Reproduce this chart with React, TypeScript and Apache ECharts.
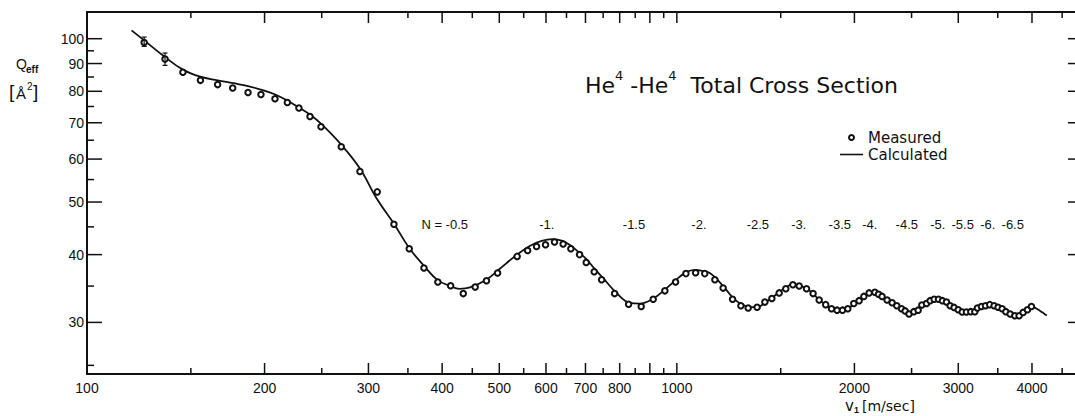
import React, { useEffect, useRef } from "react";
import * as echarts from "echarts";

// ---- data ----
const measuredV = [125, 135.6, 145.4, 155.7, 166.5, 176.6, 187.5, 197.2, 208.3, 218.6, 228.7, 238.8, 249.3, 269.8, 290.2, 310.5, 331.4, 351.8, 372.6, 393.4, 413.5, 434.4, 455.1, 475.6, 496.7, 536.1, 558.5, 578.3, 598.9, 620.3, 641.5, 661.1, 684, 702, 724.2, 745.5, 784.3, 828.3, 870.1, 911.8, 954.3, 995, 1036, 1076, 1115, 1160, 1198, 1243, 1284, 1321, 1368, 1410, 1449, 1491, 1530, 1573, 1612, 1659, 1702, 1743, 1788, 1829, 1869, 1909, 1949, 1995, 2037, 2075, 2118, 2166, 2197, 2228, 2272, 2317, 2360, 2404, 2438, 2475, 2522, 2565, 2602, 2650, 2688, 2730, 2777, 2820, 2865, 2906, 2951, 2999, 3046, 3097, 3150, 3200, 3233, 3284, 3336, 3392, 3450, 3504, 3560, 3612, 3673, 3741, 3804, 3864, 3930, 3992];
const measuredQ = [98.4, 91.7, 86.7, 83.8, 82.3, 81.1, 79.6, 78.9, 77.5, 76.3, 74.5, 71.9, 68.8, 63.2, 56.9, 52.2, 45.5, 41.0, 37.8, 35.6, 35.05, 33.9, 34.85, 35.8, 37.0, 39.7, 40.7, 41.4, 41.7, 42.2, 41.85, 41.0, 40.0, 38.7, 37.2, 35.96, 33.9, 32.4, 32.1, 33.1, 34.3, 35.6, 36.9, 37.05, 36.9, 35.96, 34.7, 33.1, 32.2, 31.9, 32.0, 32.7, 33.2, 34.0, 34.6, 35.2, 35.0, 34.6, 33.9, 33.0, 32.35, 31.8, 31.6, 31.6, 31.8, 32.5, 32.9, 33.5, 34.0, 34.1, 33.8, 33.5, 33.0, 32.6, 32.2, 31.8, 31.5, 31.1, 31.4, 31.6, 32.3, 32.5, 32.9, 33.1, 33.1, 32.9, 32.7, 32.2, 31.97, 31.66, 31.35, 31.35, 31.4, 31.4, 31.9, 32.1, 32.2, 32.35, 32.2, 32.0, 31.8, 31.4, 31.1, 30.86, 30.86, 31.3, 31.66, 32.1];

const calcV = [119, 125, 135.6, 145.4, 155.6, 166.5, 177, 187.5, 197, 208, 218, 228, 239, 250, 269, 290, 310, 331, 352, 373, 393, 413, 428, 446, 476, 500, 536, 563, 590, 616, 640, 658, 680, 703, 725, 750, 790, 832, 865, 912, 955, 999, 1036, 1073, 1110, 1137, 1170, 1214, 1255, 1296, 1330, 1368, 1410, 1450, 1490, 1530, 1573, 1612, 1660, 1702, 1743, 1790, 1830, 1890, 1950, 2000, 2040, 2080, 2120, 2166, 2200, 2230, 2272, 2317, 2360, 2404, 2440, 2475, 2520, 2565, 2610, 2650, 2690, 2750, 2800, 2865, 2906, 2950, 3000, 3050, 3100, 3150, 3200, 3240, 3290, 3390, 3450, 3505, 3560, 3610, 3670, 3740, 3800, 3865, 3930, 3990, 4050, 4130, 4200, 4240];
const calcQ = [103.6, 99.3, 92.5, 87.7, 85.1, 83.8, 82.8, 81.8, 80.6, 79.0, 77.0, 74.8, 72.4, 69.5, 64.0, 57.7, 50.7, 45.7, 41.1, 38.1, 35.9, 35.0, 34.6, 34.8, 36.0, 37.6, 40.0, 41.5, 42.4, 42.7, 42.4, 41.7, 40.5, 39.2, 37.7, 36.2, 34.0, 32.6, 32.5, 33.2, 34.5, 36.0, 37.1, 37.5, 37.3, 37.0, 36.0, 34.4, 33.0, 32.3, 32.0, 32.0, 32.6, 33.3, 34.1, 34.8, 35.3, 35.1, 34.6, 33.9, 33.0, 32.3, 31.8, 31.6, 31.8, 32.5, 33.0, 33.6, 34.0, 34.2, 33.9, 33.5, 33.0, 32.6, 32.2, 31.8, 31.4, 31.1, 31.3, 31.7, 32.3, 32.6, 32.9, 33.2, 33.0, 32.7, 32.2, 31.9, 31.6, 31.35, 31.3, 31.4, 31.5, 31.9, 32.1, 32.35, 32.2, 32.0, 31.8, 31.4, 31.1, 30.9, 30.85, 31.3, 31.7, 32.0, 31.9, 31.5, 31.1, 30.9];

const errV = [125, 135.6];
const errLow = [96.8, 89.3];
const errHigh = [100.7, 94.1];

const xMajorTicks = [200, 300, 400, 500, 600, 700, 800, 900, 1000, 2000, 3000, 4000];
const xMinorTicks = [150, 250, 350, 450, 550, 650, 750, 850, 950, 1500, 2500, 3500, 4500];
const xTickLabels = [100, 200, 300, 400, 500, 600, 700, 800, 1000, 2000, 3000, 4000];
const yMajorTicks = [30, 40, 50, 60, 70, 80, 90, 100];
const yMinorTicks = [25, 35, 45, 55, 65, 75, 85, 95];

const nLabels = ["N = -0.5", "-1.", "-1.5", "-2.", "-2.5", "-3.", "-3.5", "-4.", "-4.5", "-5.", "-5.5", "-6.", "-6.5"];
const nLabelV = [404, 602, 846, 1090, 1372, 1610, 1889, 2124, 2454, 2770, 3052, 3366, 3711];
const nLabelQ = 45.4;

const X_MIN = 100;
const X_MAX = 4750;
const Y_MIN = 24.1;
const Y_MAX = 112;

const INK = "#111111";
const NUM_FONT = "'Liberation Sans', Arial, sans-serif";
const TXT_FONT = "'DejaVu Sans', sans-serif";

export default function App() {
  const ref = useRef<HTMLDivElement>(null);

  useEffect(() => {
    const chart = echarts.init(ref.current!, null, { renderer: "svg" });

    const xTickData = [
      ...xMajorTicks.map((v) => [v, 50, 1]),
      ...xMinorTicks.map((v) => [v, 50, 0]),
    ];
    const yTickData = [
      ...yMajorTicks.map((v) => [200, v, 1]),
      ...yMinorTicks.map((v) => [200, v, 0]),
    ];

    const option: any = {
      animation: false,
      backgroundColor: "#ffffff",
      title: {
        text: "{a|He}{s|4}{a| -He}{s|4}{a|  Total Cross Section}",
        left: 585,
        top: 69,
        padding: 0,
        textStyle: {
          fontWeight: "normal",
          rich: {
            a: { fontSize: 22, fontFamily: TXT_FONT, fontWeight: "normal", color: INK, lineHeight: 27, verticalAlign: "bottom" },
            s: { fontSize: 13, fontFamily: TXT_FONT, fontWeight: "normal", color: INK, verticalAlign: "top" },
          },
        },
      },
      legend: {
        data: [
          { name: "Measured", icon: "emptyCircle" },
          { name: "Calculated", icon: "path://M0 0 H23 V1.6 H0 Z" },
        ],
        orient: "vertical",
        left: 840,
        top: 130,
        padding: 0,
        itemWidth: 23,
        itemHeight: 5,
        itemGap: 2,
        selectedMode: false,
        textStyle: { fontFamily: TXT_FONT, fontSize: 15, color: INK, padding: [0, 0, 0, 0] },
      },
      grid: { left: 87, top: 12, width: 989, height: 362 },
      xAxis: [
        {
          type: "log", logBase: 10, min: X_MIN, max: X_MAX, position: "bottom",
          axisLine: { show: true, onZero: false, lineStyle: { color: INK, width: 2 } },
          axisTick: { show: false }, axisLabel: { show: false }, splitLine: { show: false },
        },
        {
          type: "log", logBase: 10, min: X_MIN, max: X_MAX, position: "top",
          axisLine: { show: true, onZero: false, lineStyle: { color: INK, width: 2 } },
          axisTick: { show: false }, axisLabel: { show: false }, splitLine: { show: false },
        },
      ],
      yAxis: [
        {
          type: "log", logBase: 10, min: Y_MIN, max: Y_MAX, position: "left",
          axisLine: { show: true, onZero: false, lineStyle: { color: INK, width: 2 } },
          axisTick: { show: false }, axisLabel: { show: false }, splitLine: { show: false },
        },
        {
          type: "log", logBase: 10, min: Y_MIN, max: Y_MAX, position: "right",
          axisLine: { show: true, onZero: false, lineStyle: { color: INK, width: 2 } },
          axisTick: { show: false }, axisLabel: { show: false }, splitLine: { show: false },
        },
      ],
      graphic: [
        { type: "text", x: 16, y: 64, style: { text: "Q", fontSize: 14, fontFamily: NUM_FONT, fill: INK, verticalAlign: "middle" } },
        { type: "text", x: 26, y: 69, style: { text: "eff", fontSize: 10, fontWeight: "bold", fontFamily: NUM_FONT, fill: INK, verticalAlign: "middle" } },
        { type: "text", x: 9, y: 91, style: { text: "[", fontSize: 19, fontFamily: NUM_FONT, fill: INK, verticalAlign: "middle" } },
        { type: "text", x: 16, y: 93, style: { text: "Å", fontSize: 15, fontFamily: NUM_FONT, fill: INK, verticalAlign: "middle" } },
        { type: "text", x: 27, y: 86, style: { text: "2", fontSize: 10, fontFamily: NUM_FONT, fill: INK, verticalAlign: "middle" } },
        { type: "text", x: 33, y: 91, style: { text: "]", fontSize: 19, fontFamily: NUM_FONT, fill: INK, verticalAlign: "middle" } },
        { type: "text", x: 845, y: 406, style: { text: "v", fontSize: 15, fontFamily: TXT_FONT, fill: INK, verticalAlign: "middle" } },
        { type: "text", x: 854, y: 410, style: { text: "1", fontSize: 9, fontWeight: "bold", fontFamily: NUM_FONT, fill: INK, verticalAlign: "middle" } },
        { type: "text", x: 862, y: 406, style: { text: "[m/sec]", fontSize: 14, fontFamily: TXT_FONT, fill: INK, verticalAlign: "middle" } },
      ],
      series: [
        {
          name: "Calculated",
          type: "line",
          data: calcV.map((v, i) => [v, calcQ[i]]),
          smooth: 0.4,
          symbol: "none",
          lineStyle: { color: INK, width: 1.8 },
          itemStyle: { color: INK },
          z: 2,
        },
        {
          name: "Measured",
          type: "scatter",
          data: measuredV.map((v, i) => [v, measuredQ[i]]),
          symbol: "emptyCircle",
          symbolSize: 5.5,
          itemStyle: { color: INK, borderWidth: 1.2, opacity: 1 },
          z: 3,
        },
        {
          name: "errorbars",
          type: "custom",
          data: errV.map((v, i) => [v, errLow[i], errHigh[i]]),
          z: 4,
          silent: true,
          renderItem: (params: any, api: any) => {
            const lo = api.coord([api.value(0), api.value(1)]);
            const hi = api.coord([api.value(0), api.value(2)]);
            const st = { stroke: INK, lineWidth: 1.2 };
            return {
              type: "group",
              children: [
                { type: "line", shape: { x1: lo[0], y1: lo[1], x2: hi[0], y2: hi[1] }, style: st },
                { type: "line", shape: { x1: lo[0] - 2.5, y1: lo[1], x2: lo[0] + 2.5, y2: lo[1] }, style: st },
                { type: "line", shape: { x1: hi[0] - 2.5, y1: hi[1], x2: hi[0] + 2.5, y2: hi[1] }, style: st },
              ],
            };
          },
        },
        {
          name: "xticks",
          type: "custom",
          data: xTickData,
          z: 5,
          silent: true,
          clip: false,
          renderItem: (params: any, api: any) => {
            const cs = params.coordSys;
            const px = api.coord([api.value(0), 50])[0];
            const len = api.value(2) ? 11 : 6;
            const bottom = cs.y + cs.height;
            const top = cs.y;
            const st = { stroke: INK, lineWidth: 1.5 };
            return {
              type: "group",
              children: [
                { type: "line", shape: { x1: px, y1: bottom, x2: px, y2: bottom - len }, style: st },
                { type: "line", shape: { x1: px, y1: top, x2: px, y2: top + len }, style: st },
              ],
            };
          },
        },
        {
          name: "xlabels",
          type: "custom",
          data: xTickLabels.map((v) => [v, 50]),
          z: 5,
          silent: true,
          clip: false,
          renderItem: (params: any, api: any) => {
            const cs = params.coordSys;
            const px = api.coord([api.value(0), 50])[0];
            return {
              type: "text",
              x: px,
              y: cs.y + cs.height + 14,
              style: {
                text: String(xTickLabels[params.dataIndex]),
                align: "center",
                verticalAlign: "middle",
                fontSize: 14,
                fontFamily: NUM_FONT,
                fill: INK,
              },
            };
          },
        },
        {
          name: "yticks",
          type: "custom",
          data: yTickData,
          z: 5,
          silent: true,
          clip: false,
          renderItem: (params: any, api: any) => {
            const cs = params.coordSys;
            const py = api.coord([200, api.value(1)])[1];
            const major = api.value(2) === 1;
            const len = major ? 15 : 7;
            const st = { stroke: INK, lineWidth: 1.5 };
            const children: any[] = [
              { type: "line", shape: { x1: cs.x, y1: py, x2: cs.x + len, y2: py }, style: st },
            ];
            if (major) {
              const r = cs.x + cs.width;
              children.push({ type: "line", shape: { x1: r - 8, y1: py, x2: r, y2: py }, style: st });
              children.push({
                type: "text",
                x: cs.x - 3,
                y: py,
                style: {
                  text: String(api.value(1)),
                  align: "right",
                  verticalAlign: "middle",
                  fontSize: 14,
                  fontFamily: NUM_FONT,
                  fill: INK,
                },
              });
            }
            return { type: "group", children };
          },
        },
        {
          name: "nlabels",
          type: "custom",
          data: nLabelV.map((v) => [v, nLabelQ]),
          z: 5,
          silent: true,
          clip: false,
          renderItem: (params: any, api: any) => {
            const p = api.coord([api.value(0), api.value(1)]);
            return {
              type: "text",
              x: p[0],
              y: p[1],
              style: {
                text: nLabels[params.dataIndex],
                align: "center",
                verticalAlign: "middle",
                fontSize: 13,
                fontFamily: NUM_FONT,
                fill: INK,
              },
            };
          },
        },
      ],
    };

    chart.setOption(option);
    return () => chart.dispose();
  }, []);

  return (
    <div
      ref={ref}
      style={{ position: "fixed", left: 0, top: 0, width: 1080, height: 416, background: "#fff" }}
    />
  );
}
